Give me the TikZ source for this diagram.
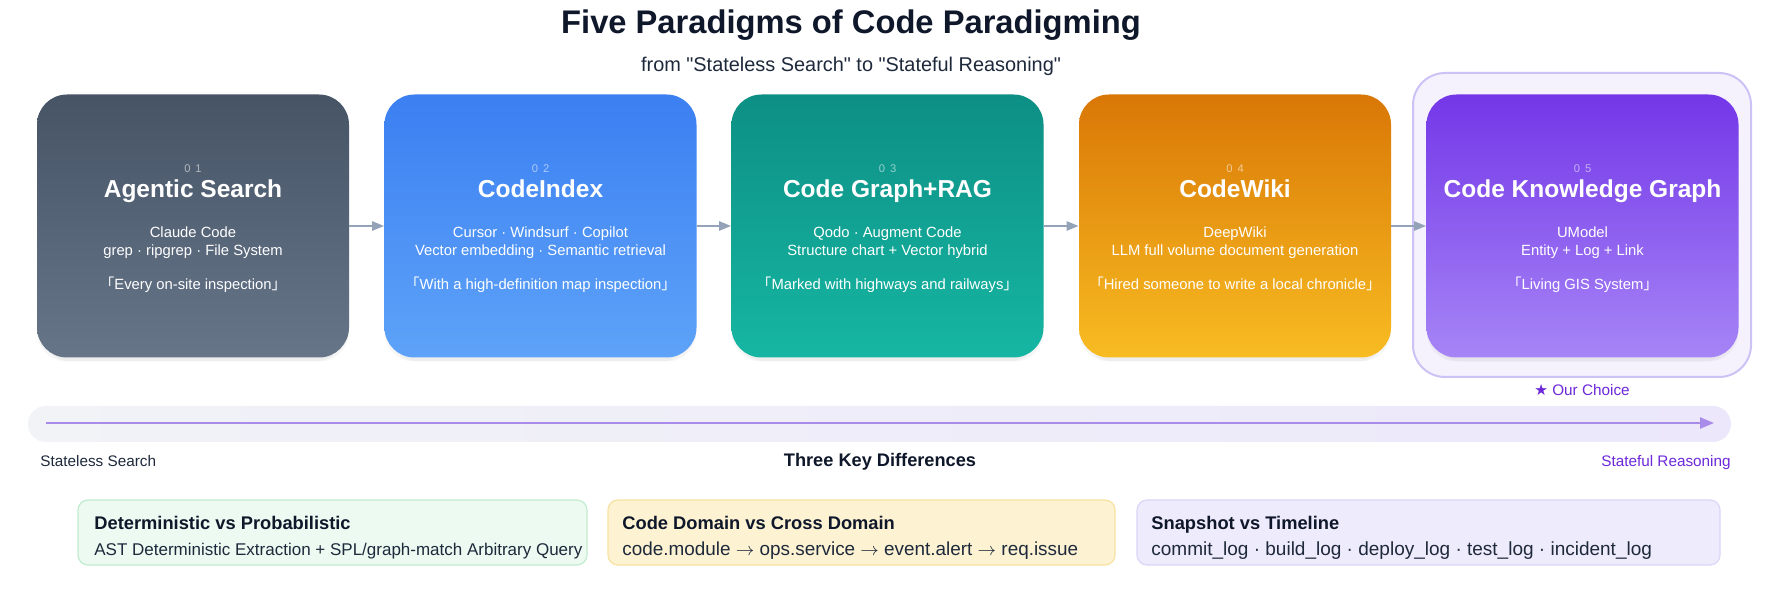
\documentclass[tikz,border=0pt]{standalone}
\usepackage{fontspec}
\setmainfont{Liberation Sans}
\newfontfamily\plainsans{Liberation Sans}[Ligatures=TeXOff]
\newfontfamily\cjk{Noto Sans CJK SC}
\newfontfamily\sym{DejaVu Sans}
\usepackage{tikz}
\usetikzlibrary{arrows.meta,shadows}

\definecolor{ink}{HTML}{0F172A}
\definecolor{bodyink}{HTML}{1E293B}
\definecolor{arrowgray}{HTML}{94A3B8}
\definecolor{slateTop}{HTML}{465466}
\definecolor{slateBot}{HTML}{677589}
\definecolor{blueTop}{HTML}{3B7FF2}
\definecolor{blueBot}{HTML}{5EA3F8}
\definecolor{tealTop}{HTML}{0D8F84}
\definecolor{tealBot}{HTML}{16B6A3}
\definecolor{amberTop}{HTML}{D97706}
\definecolor{amberBot}{HTML}{F8BC22}
\definecolor{violetTop}{HTML}{7437E8}
\definecolor{violetBot}{HTML}{A685F6}
\definecolor{choiceFill}{HTML}{F5F2FE}
\definecolor{choiceLine}{HTML}{CDC2F6}
\definecolor{choiceText}{HTML}{6D28D9}
\definecolor{bandLeft}{HTML}{F1F3F7}
\definecolor{bandRight}{HTML}{ECE7FB}
\definecolor{timeline}{HTML}{A98CEA}
\definecolor{greenFill}{HTML}{ECFAF1}
\definecolor{greenLine}{HTML}{C2ECD0}
\definecolor{yellowFill}{HTML}{FDF3D3}
\definecolor{yellowLine}{HTML}{F8E2A2}
\definecolor{purpleFill}{HTML}{EEEBFC}
\definecolor{purpleLine}{HTML}{DCD5F7}

\newcommand{\openq}{{\cjk 「}}
\newcommand{\closeq}{{\cjk 」}}
\newcommand{\nextstep}{ $\rightarrow$ }

\tikzset{
  paradigm/.style={rounded corners=15pt, minimum width=156pt, minimum height=131.5pt, inner sep=0pt,
    drop shadow={shadow xshift=0pt, shadow yshift=-4pt, shadow scale=0.97, opacity=0.06},
    drop shadow={shadow xshift=0pt, shadow yshift=-2pt, opacity=0.07}},
  num/.style={anchor=base, inner sep=0pt, text=white, text opacity=0.55, font=\fontsize{5.6}{7}\selectfont},
  ptitle/.style={anchor=base, inner sep=0pt, text=white, font=\bfseries\fontsize{12.25}{14}\selectfont},
  pline/.style={anchor=base, inner sep=0pt, text=white, font=\fontsize{7.4}{9}\selectfont},
  flow/.style={-{Triangle[length=6pt,width=4.6pt]}, draw=arrowgray, line width=1pt},
  card/.style={rounded corners=5pt, line width=0.6pt, minimum height=32.5pt, inner sep=0pt},
  cardhead/.style={anchor=base west, inner sep=0pt, text=ink, font=\bfseries\fontsize{9.15}{10}\selectfont},
  cardbody/.style={anchor=base west, inner sep=0pt, text=bodyink, font=\fontsize{8.5}{10}\selectfont},
  label/.style={anchor=base, inner sep=0pt, font=\fontsize{7.65}{9}\selectfont},
}

\begin{document}
\begin{tikzpicture}[x=0.5pt,y=-0.5pt]
\useasboundingbox (0,0) rectangle (1776,592);
\fill[white] (0,0) rectangle (1776,592);
% Titulo
\node[anchor=base, text=ink, font=\bfseries\fontsize{16.35}{19}\selectfont] (title) at (851,34) {Five Paradigms of Code Paradigming};
\node[anchor=base, text=bodyink, font=\plainsans\fontsize{9.95}{11}\selectfont] (subtitle) at (851,72) {from "Stateless Search" to "Stateful Reasoning"};
% Destaque
\node[draw=choiceLine, fill=choiceFill, line width=1pt, rounded corners=16pt, minimum width=169pt, minimum height=152pt] (choice) at (1582,225) {};
\node[label, text=choiceText] (choicelabel) at (1582,396) {{\sym ★} Our Choice};
% Paradigmas
\node[paradigm, top color=slateTop, bottom color=slateBot] (p1) at (193,226) {};
\node[num] (p1num) at (193,173) {0\hspace{2.5pt}1};
\node[ptitle] (p1title) at (193,198) {Agentic Search};
\node[pline] (p1a) at (193,238) {Claude Code};
\node[pline] (p1b) at (193,256) {grep · ripgrep · File System};
\node[pline] (p1q) at (193,290) {\openq Every on-site inspection\closeq};

\node[paradigm, top color=blueTop, bottom color=blueBot] (p2) at (540.5,226) {};
\node[num] (p2num) at (540.5,173) {0\hspace{2.5pt}2};
\node[ptitle] (p2title) at (540.5,198) {CodeIndex};
\node[pline] (p2a) at (540.5,238) {Cursor · Windsurf · Copilot};
\node[pline] (p2b) at (540.5,256) {Vector embedding · Semantic retrieval};
\node[pline] (p2q) at (540.5,290) {\openq With a high-definition map inspection\closeq};

\node[paradigm, top color=tealTop, bottom color=tealBot] (p3) at (887.5,226) {};
\node[num] (p3num) at (887.5,173) {0\hspace{2.5pt}3};
\node[ptitle] (p3title) at (887.5,198) {Code Graph+RAG};
\node[pline] (p3a) at (887.5,238) {Qodo · Augment Code};
\node[pline] (p3b) at (887.5,256) {Structure chart + Vector hybrid};
\node[pline] (p3q) at (887.5,290) {\openq Marked with highways and railways\closeq};

\node[paradigm, top color=amberTop, bottom color=amberBot] (p4) at (1235,226) {};
\node[num] (p4num) at (1235,173) {0\hspace{2.5pt}4};
\node[ptitle] (p4title) at (1235,198) {CodeWiki};
\node[pline] (p4a) at (1235,238) {DeepWiki};
\node[pline] (p4b) at (1235,256) {LLM full volume document generation};
\node[pline] (p4q) at (1235,290) {\openq Hired someone to write a local chronicle\closeq};

\node[paradigm, top color=violetTop, bottom color=violetBot] (p5) at (1582.5,226) {};
\node[num] (p5num) at (1582.5,173) {0\hspace{2.5pt}5};
\node[ptitle] (p5title) at (1582.5,198) {Code Knowledge Graph};
\node[pline] (p5a) at (1582.5,238) {UModel};
\node[pline] (p5b) at (1582.5,256) {Entity + Log + Link};
\node[pline] (p5q) at (1582.5,290) {\openq Living GIS System\closeq};
% Setas
\draw[flow] (p1) -- (p2);
\draw[flow] (p2) -- (p3);
\draw[flow] (p3) -- (p4);
\draw[flow] (p4) -- (p5);
% Linha do tempo
\node[left color=bandLeft, right color=bandRight, rounded corners=9pt, minimum width=851.5pt, minimum height=18pt, inner sep=0pt] (band) at (879.5,424) {};
\coordinate (tstart) at (46,423);
\coordinate (tend) at (1714,423);
\draw[timeline, line width=1.2pt, -{Triangle[length=7pt,width=5.5pt]}] (tstart) -- (tend);
\node[label, anchor=base west, text=bodyink] (stateless) at (40,467) {Stateless Search};
\node[anchor=base, inner sep=0pt, text=ink, font=\bfseries\fontsize{9.1}{11}\selectfont] (keys) at (880,467) {Three Key Differences};
\node[label, anchor=base east, text=choiceText] (stateful) at (1731,467) {Stateful Reasoning};
% Diferencas
\node[card, draw=greenLine, fill=greenFill, minimum width=254.5pt] (c1) at (332.5,532.5) {};
\node[cardhead] (c1head) at (94,530) {Deterministic vs Probabilistic};
\node[cardbody] (c1body) at (94,555) {AST Deterministic Extraction + SPL/graph-match Arbitrary Query};
\node[card, draw=yellowLine, fill=yellowFill, minimum width=253.5pt] (c2) at (861.5,532.5) {};
\node[cardhead] (c2head) at (622,530) {Code Domain vs Cross Domain};
\node[cardbody, font=\fontsize{9.45}{10}\selectfont] (c2body) at (622,555) {code.module\nextstep ops.service\nextstep event.alert\nextstep req.issue};
\node[card, draw=purpleLine, fill=purpleFill, minimum width=291.5pt] (c3) at (1428.5,532.5) {};
\node[cardhead] (c3head) at (1151,530) {Snapshot vs Timeline};
\node[cardbody, font=\fontsize{9.5}{10}\selectfont] (c3body) at (1151,555) {commit\_log · build\_log · deploy\_log · test\_log · incident\_log};
\end{tikzpicture}
\end{document}
